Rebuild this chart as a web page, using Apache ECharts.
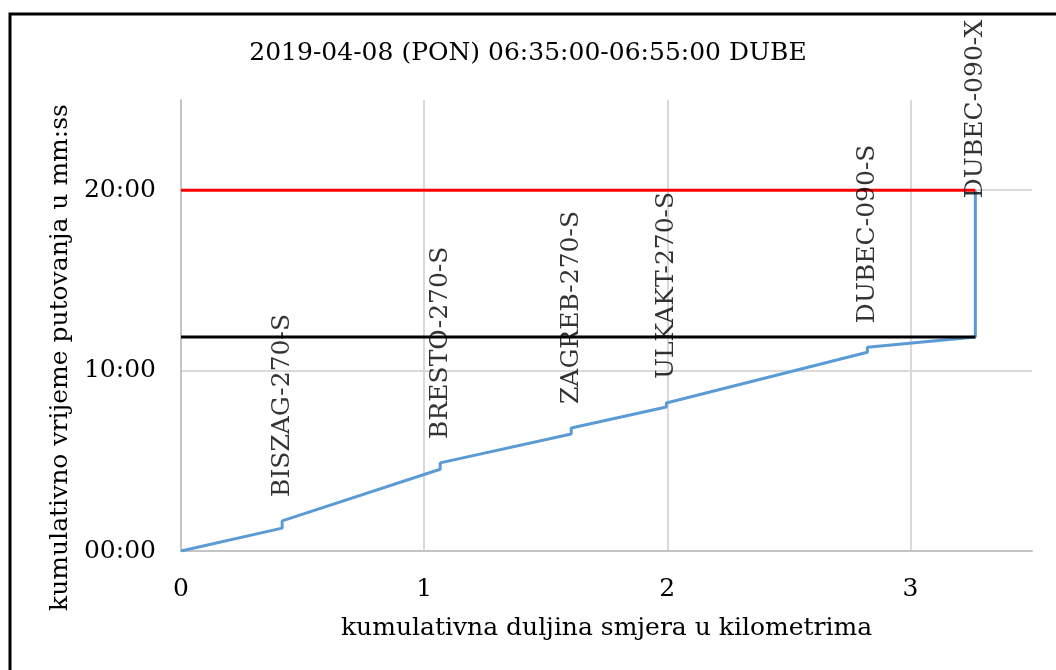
<!DOCTYPE html>
<html>
<head>
<meta charset="utf-8">
<script src="https://cdn.jsdelivr.net/npm/echarts@6/dist/echarts.min.js"></script>
<style>
  html, body { margin: 0; padding: 0; background: #fff; }
  #main { width: 1056px; height: 670px; }
</style>
</head>
<body>
<div id="main"></div>
<script>
// stanice na smjeru
const stopNames = ['BISZAG-270-S', 'BRESTO-270-S', 'ZAGREB-270-S', 'ULKAKT-270-S', 'DUBEC-090-S'];
const stopKm = [0.416, 1.066, 1.605, 1.996, 2.823];
// kumulativno vrijeme (s) prije i poslije stajanja
const timeArrive = [76, 272, 389, 479, 661];
const timeDepart = [100, 293, 409, 492, 678];
// kraj smjera
const endName = 'DUBEC-090-X';
const endKm = 3.267;
const endTime = 712;
const limitTime = 1200;

const font = 'DejaVu Serif';
const fs = 25;

function mmss(v) {
  let m = Math.floor(v / 60), s = Math.round(v % 60);
  return String(m).padStart(2, '0') + ':' + String(s).padStart(2, '0');
}

// putanja vozila
let travel = [[0, 0]];
stopKm.forEach((km, i) => {
  travel.push([km, timeArrive[i]]);
  travel.push([km, timeDepart[i]]);
});
travel.push([endKm, endTime]);
travel.push([endKm, limitTime]);

// oznake stanica
let labels = stopKm.map((km, i) => ({ value: [km, timeDepart[i]], name: stopNames[i] }));
labels.push({ value: [endKm, limitTime], name: endName, label: { distance: -10 } });

let chart = echarts.init(document.getElementById('main'), null, { renderer: 'canvas' });
let option = {
  animation: false,
  backgroundColor: '#fff',
  title: {
    text: '2019-04-08 (PON) 06:35:00-06:55:00 DUBE',
    left: 'center',
    top: 36,
    textStyle: { fontFamily: font, fontSize: fs, fontWeight: 'normal', color: '#000' }
  },
  graphic: [{
    type: 'rect',
    shape: { x: 10, y: 14, width: 1200, height: 800 },
    style: { fill: 'none', stroke: '#000', lineWidth: 3 },
    silent: true
  }],
  grid: { left: 181, right: 24, top: 100, bottom: 119, containLabel: false },
  xAxis: {
    type: 'value',
    min: 0,
    max: 3.5,
    interval: 1,
    name: 'kumulativna duljina smjera u kilometrima',
    nameLocation: 'middle',
    nameGap: 65,
    nameTextStyle: { fontFamily: font, fontSize: fs, color: '#000' },
    axisLine: { lineStyle: { color: '#c4c4c4', width: 2 } },
    axisTick: { show: false },
    axisLabel: { fontFamily: font, fontSize: fs, color: '#000', margin: 26, showMaxLabel: false },
    splitLine: { show: true, showMaxLine: false, lineStyle: { color: '#d9d9d9', width: 2 } }
  },
  yAxis: {
    type: 'value',
    min: 0,
    max: 1500,
    interval: 600,
    name: 'kumulativno vrijeme putovanja u mm:ss',
    nameLocation: 'middle',
    nameGap: 104,
    nameTextStyle: { fontFamily: font, fontSize: fs, color: '#000', padding: [0, 64, 0, 0] },
    axisLine: { show: true, lineStyle: { color: '#c4c4c4', width: 2 } },
    axisTick: { show: false },
    axisLabel: { fontFamily: font, fontSize: fs, color: '#000', margin: 25, showMaxLabel: false, formatter: mmss },
    splitLine: { show: true, showMaxLine: false, lineStyle: { color: '#d9d9d9', width: 2 } }
  },
  series: [
    {
      name: 'putanja',
      type: 'line',
      data: travel,
      symbol: 'none',
      lineStyle: { color: '#5b9bd5', width: 3 },
      z: 3
    },
    {
      name: 'ukupno',
      type: 'line',
      data: [[0, endTime], [endKm, endTime]],
      symbol: 'none',
      lineStyle: { color: '#000', width: 3 },
      z: 4
    },
    {
      name: 'limit',
      type: 'line',
      data: [[0, limitTime], [endKm, limitTime]],
      symbol: 'none',
      lineStyle: { color: '#ff0000', width: 3 },
      z: 4
    },
    {
      name: 'stanice',
      type: 'scatter',
      data: labels,
      symbolSize: 0,
      z: 6,
      label: {
        show: true,
        position: 'top',
        distance: 22,
        rotate: 90,
        align: 'left',
        verticalAlign: 'middle',
        offset: [2, 0],
        formatter: p => p.name,
        fontFamily: font,
        fontSize: fs,
        color: '#000'
      }
    }
  ]
};
chart.setOption(option);
</script>
</body>
</html>
